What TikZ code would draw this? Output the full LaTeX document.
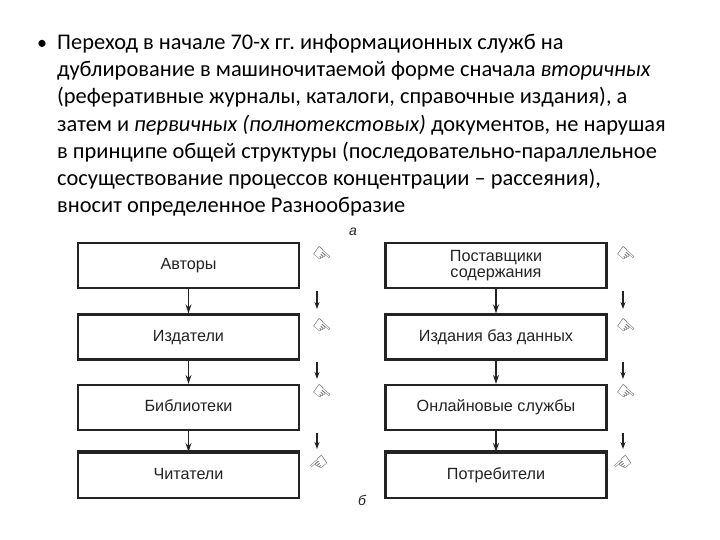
\documentclass[tikz,border=0pt]{standalone}
\usepackage{fontspec}
\setmainfont{Carlito}
\newfontfamily\boxfont{Liberation Sans}
\newfontfamily\symfont{DejaVu Sans}
\usetikzlibrary{arrows.meta}
\definecolor{ink}{RGB}{35,35,35}
\tikzset{
  blkbase/.style={draw=ink, line width=2.2pt, minimum width=221pt, minimum height=45pt, inner sep=0pt,
    font=\boxfont\fontsize{16.2}{18}\selectfont, text=ink, align=center},
  blk/.style={blkbase, text height=11.6pt, text depth=3.4pt},
  flow/.style={draw=ink, line width=1.4pt, -{Stealth[length=9pt,width=6pt]}},
  sideflow/.style={draw=ink, line width=1.3pt, -{Stealth[length=7pt,width=5pt]}},
  hand/.style={font=\symfont\bfseries\fontsize{21}{21}\selectfont, text=ink, inner sep=0pt},
  tag/.style={font=\boxfont\itshape\fontsize{14}{14}\selectfont, text=ink, inner sep=0pt}
}
\begin{document}
\begin{tikzpicture}[x=1pt,y=-1pt]
\useasboundingbox[fill=white] (0,0) rectangle (720,540);
% bullet text
\node[inner sep=0pt, font=\fontsize{20}{20}\selectfont] (bul) at (42,45) {\textbullet};
\node[anchor=north west, inner sep=0pt, align=left, font=\frenchspacing\fontsize{22.4}{27.2}\selectfont] (txt) at (57,34)
{Переход в начале 70-х гг. информационных служб на\\
дублирование в машиночитаемой форме сначала \textit{вторичных}\\
(реферативные журналы, каталоги, справочные издания), а\\
затем и \textit{первичных (полнотекстовых)} документов, не нарушая\\
в принципе общей структуры (последовательно-параллельное\\
сосуществование процессов концентрации – рассеяния),\\
вносит определенное Разнообразие};
% left column
\node[blk] (a1) at (188.5,265.5) {Авторы};
\node[blk] (a2) at (188.5,337) {Издатели};
\node[blk] (a3) at (188.5,407.5) {Библиотеки};
\node[blk] (a4) at (188.5,475.5) {Читатели};
\draw[flow] (a1.south) -- (a2.north);
\draw[flow] (a2.south) -- (a3.north);
\draw[flow] (a3.south) -- (a4.north);
\draw[draw=ink, line width=3.4pt] (a4.north west) -- (a4.north east);
% right column
\node[blkbase] (b1) at (496,265.5) {Поставщики\\[-2pt]содержания};
\node[blk] (b2) at (496,337) {Издания баз данных};
\node[blk] (b3) at (496,407.5) {Онлайновые службы};
\node[blk] (b4) at (496,475.5) {Потребители};
\draw[flow] (b1.south) -- (b2.north);
\draw[flow] (b2.south) -- (b3.north);
\draw[flow] (b3.south) -- (b4.north);
\draw[draw=ink, line width=3.4pt] (b4.north west) -- (b4.north east);
% side markers left
\node[hand, rotate=-40] (ha1) at (322,256) {☞};
\node[hand, rotate=-40] (ha2) at (322,328) {☞};
\node[hand, rotate=-40] (ha3) at (322,394) {☞};
\node[hand, rotate=40] (ha4) at (320,465) {☜};
\coordinate (la1) at (317,291); \coordinate (la2) at (317,309);
\coordinate (lb1) at (317,362); \coordinate (lb2) at (317,379);
\coordinate (lc1) at (317,433); \coordinate (lc2) at (317,449);
\draw[sideflow] (la1) -- (la2);
\draw[sideflow] (lb1) -- (lb2);
\draw[sideflow] (lc1) -- (lc2);
% side markers right
\node[hand, rotate=-40] (hb1) at (626,256) {☞};
\node[hand, rotate=-40] (hb2) at (626,328) {☞};
\node[hand, rotate=-40] (hb3) at (626,394) {☞};
\node[hand, rotate=40] (hb4) at (624,465) {☜};
\coordinate (ra1) at (623,291); \coordinate (ra2) at (623,309);
\coordinate (rb1) at (623,362); \coordinate (rb2) at (623,379);
\coordinate (rc1) at (623,433); \coordinate (rc2) at (623,449);
\draw[sideflow] (ra1) -- (ra2);
\draw[sideflow] (rb1) -- (rb2);
\draw[sideflow] (rc1) -- (rc2);
% labels
\node[tag] (ta) at (353,232) {а};
\node[tag] (tb) at (362,500) {б};
\end{tikzpicture}
\end{document}
